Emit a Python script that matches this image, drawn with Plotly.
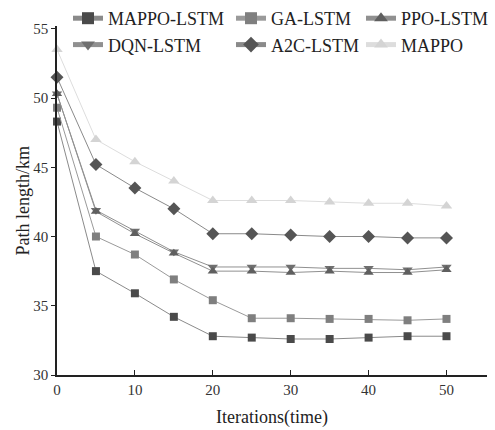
import plotly.graph_objects as go

iterations = [0, 5, 10, 15, 20, 25, 30, 35, 40, 45, 50]
mappo_lstm = [48.3, 37.5, 35.9, 34.2, 32.8, 32.7, 32.6, 32.6, 32.7, 32.8, 32.8]
ga_lstm = [49.3, 40.0, 38.7, 36.9, 35.4, 34.1, 34.1, 34.05, 34.05, 33.95, 34.05]
ppo_lstm = [50.3, 41.8, 40.2, 38.8, 37.5, 37.5, 37.4, 37.5, 37.4, 37.4, 37.6]
dqn_lstm = [50.3, 41.9, 40.4, 38.9, 37.8, 37.8, 37.8, 37.7, 37.7, 37.6, 37.8]
a2c_lstm = [51.5, 45.2, 43.5, 42.0, 40.2, 40.2, 40.1, 40.0, 40.0, 39.9, 39.9]
mappo = [53.5, 47.0, 45.4, 44.0, 42.6, 42.6, 42.6, 42.5, 42.4, 42.4, 42.2]

series = [
    ("MAPPO-LSTM", mappo_lstm, "square", "#4a4a4a", "#8a8a8a", 8, "legend"),
    ("DQN-LSTM", dqn_lstm, "triangle-down", "#6f6f6f", "#909090", 9, "legend"),
    ("GA-LSTM", ga_lstm, "square", "#7f7f7f", "#9a9a9a", 8, "legend2"),
    ("A2C-LSTM", a2c_lstm, "diamond", "#555555", "#8a8a8a", 10, "legend2"),
    ("PPO-LSTM", ppo_lstm, "triangle-up", "#5f5f5f", "#909090", 9, "legend3"),
    ("MAPPO", mappo, "triangle-up", "#d4d4d4", "#dddddd", 10, "legend3"),
]

fig = go.Figure()
for name, vals, sym, mc, lc, sz, lg in series:
    fig.add_trace(go.Scatter(
        x=iterations, y=vals, name=name, mode="lines+markers",
        line=dict(color=lc, width=1),
        marker=dict(symbol=sym, color=mc, size=sz),
        cliponaxis=False, legend=lg,
    ))

font_family = "Liberation Serif"
legend_common = dict(
    orientation="v", xref="container", yref="container",
    y=1.0, yanchor="top", xanchor="left",
    font=dict(family=font_family, size=18, color="#222222"),
    itemsizing="constant", tracegroupgap=0,
    bgcolor="rgba(0,0,0,0)", borderwidth=0,
)
fig.update_layout(
    width=495, height=430,
    margin=dict(l=57, r=8, t=26, b=55, autoexpand=False),
    plot_bgcolor="white", paper_bgcolor="white",
    font=dict(family=font_family, size=15, color="#333333"),
    showlegend=True,
    legend=dict(legend_common, x=68 / 495),
    legend2=dict(legend_common, x=231 / 495),
    legend3=dict(legend_common, x=361 / 495),
    xaxis=dict(
        range=[0, 55.2], tickvals=[0, 10, 20, 30, 40, 50],
        showline=True, linecolor="#222222", linewidth=1.5,
        ticks="inside", ticklen=5, tickcolor="#222222",
        showgrid=False, zeroline=False, automargin=False,
    ),
    yaxis=dict(
        range=[30, 55.2], tickvals=[30, 35, 40, 45, 50, 55],
        showline=True, linecolor="#222222", linewidth=1.5,
        ticks="outside", ticklen=4, tickcolor="#222222",
        showgrid=False, zeroline=False, automargin=False,
    ),
)

fig.add_annotation(text="Iterations(time)", xref="paper", yref="paper", x=0.5, y=-42 / 349,
                   xanchor="center", yanchor="middle", showarrow=False,
                   font=dict(family=font_family, size=18, color="#222222"))
fig.add_annotation(text="Path length/km", xref="paper", yref="paper", x=-35 / 430, y=0.5,
                   xanchor="center", yanchor="middle", showarrow=False, textangle=-90,
                   font=dict(family=font_family, size=18, color="#222222"))

fig.add_annotation(x=55.6, y=30, xref="x", yref="y", ax=-14, ay=0, text="",
                   showarrow=True, arrowhead=2, arrowsize=1.3, arrowwidth=1.5, arrowcolor="#111111")
fig.add_annotation(x=0, y=55.6, xref="x", yref="y", ax=0, ay=14, text="",
                   showarrow=True, arrowhead=2, arrowsize=1.3, arrowwidth=1.5, arrowcolor="#111111")

fig.write_html("out.html")
